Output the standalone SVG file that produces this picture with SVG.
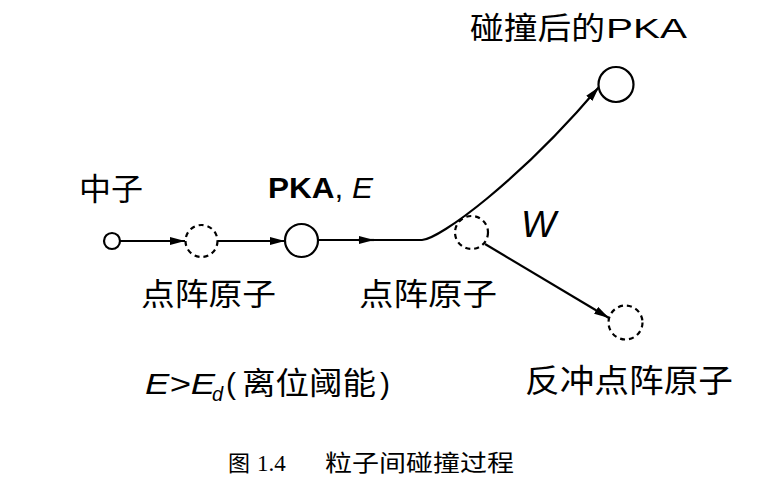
<svg xmlns="http://www.w3.org/2000/svg" width="782" height="492" viewBox="0 0 782 492">
<defs>
<style>
.ln{fill:none;stroke:#000;stroke-width:2.2}
.sol{fill:#fff;stroke:#000;stroke-width:2.2}
.dash{fill:#fff;stroke:#000;stroke-width:2.2;stroke-dasharray:5 4}
.cjk{font-family:"Noto Sans CJK SC","Liberation Sans",sans-serif;fill:#000}
.lat{font-family:"Liberation Sans",Arial,sans-serif;fill:#000}
.cap{font-family:"Liberation Serif","Noto Sans CJK SC",serif;fill:#000}
</style>
<marker id="arr" markerUnits="userSpaceOnUse" markerWidth="15" markerHeight="8" refX="15" refY="4" orient="auto">
<path d="M0,0 L15,4 L0,8 z" fill="#000"/>
</marker>
</defs>
<rect width="782" height="492" fill="#fff"/>
<g id="connectors">
<path class="ln" d="M120,241 L185,241" marker-end="url(#arr)"/>
<path class="ln" d="M218,241 L285,241" marker-end="url(#arr)"/>
<path class="ln" d="M318,240 L373,240"/>
<path class="ln" d="M358,240 L374,240" marker-end="url(#arr)"/>
<path class="ln" d="M373,240 L422,240 C440,239 520,180 599,87" marker-end="url(#arr)"/>
<path class="ln" d="M485,244 L609,318" marker-end="url(#arr)"/>
</g>
<g id="neutron">
<circle class="sol" cx="112" cy="241" r="8"/>
<text class="cjk" x="79" y="200" font-size="31" textLength="64" lengthAdjust="spacingAndGlyphs">中子</text>
</g>
<g id="lattice1">
<circle class="dash" cx="201.5" cy="241" r="16"/>
<text class="cjk" x="141" y="305" font-size="31" textLength="135" lengthAdjust="spacingAndGlyphs">点阵原子</text>
</g>
<g id="pka">
<circle class="sol" cx="301.5" cy="240.5" r="16.5"/>
<text class="lat" x="268" y="198" font-size="30" textLength="105" lengthAdjust="spacingAndGlyphs"><tspan font-weight="bold">PKA</tspan>, <tspan font-style="italic">E</tspan></text>
</g>
<g id="lattice2">
<circle class="dash" cx="471.5" cy="232.5" r="16.5"/>
<text class="cjk" x="359" y="305" font-size="31" textLength="138" lengthAdjust="spacingAndGlyphs">点阵原子</text>
<text class="lat" x="521" y="237" font-size="37" font-style="italic">W</text>
</g>
<g id="pka-after">
<circle class="sol" cx="616" cy="84.5" r="17.5"/>
<text class="cjk" x="470" y="39" font-size="31" textLength="135" lengthAdjust="spacingAndGlyphs">碰撞后的</text>
<text class="lat" x="606" y="38" font-size="28" textLength="81" lengthAdjust="spacingAndGlyphs">PKA</text>
</g>
<g id="recoil">
<circle class="dash" cx="625.5" cy="322.5" r="17"/>
<text class="cjk" x="525" y="392" font-size="32" textLength="208" lengthAdjust="spacingAndGlyphs">反冲点阵原子</text>
</g>
<g id="condition">
<text class="lat" x="145" y="394" font-size="30" font-style="italic" textLength="70" lengthAdjust="spacingAndGlyphs">E&gt;E</text>
<text class="lat" x="212" y="401" font-size="20" font-style="italic">d</text>
<text class="lat" x="226" y="394" font-size="30">(</text>
<text class="cjk" x="242" y="394" font-size="31" textLength="134" lengthAdjust="spacingAndGlyphs">离位阈能</text>
<text class="lat" x="380" y="394" font-size="30">)</text>
</g>
<g id="caption">
<text class="cap" x="228" y="471" font-size="22">图</text>
<text class="cap" x="257" y="471" font-size="23">1.4</text>
<text class="cap" x="325" y="471" font-size="23" textLength="189" lengthAdjust="spacingAndGlyphs">粒子间碰撞过程</text>
</g>
</svg>
